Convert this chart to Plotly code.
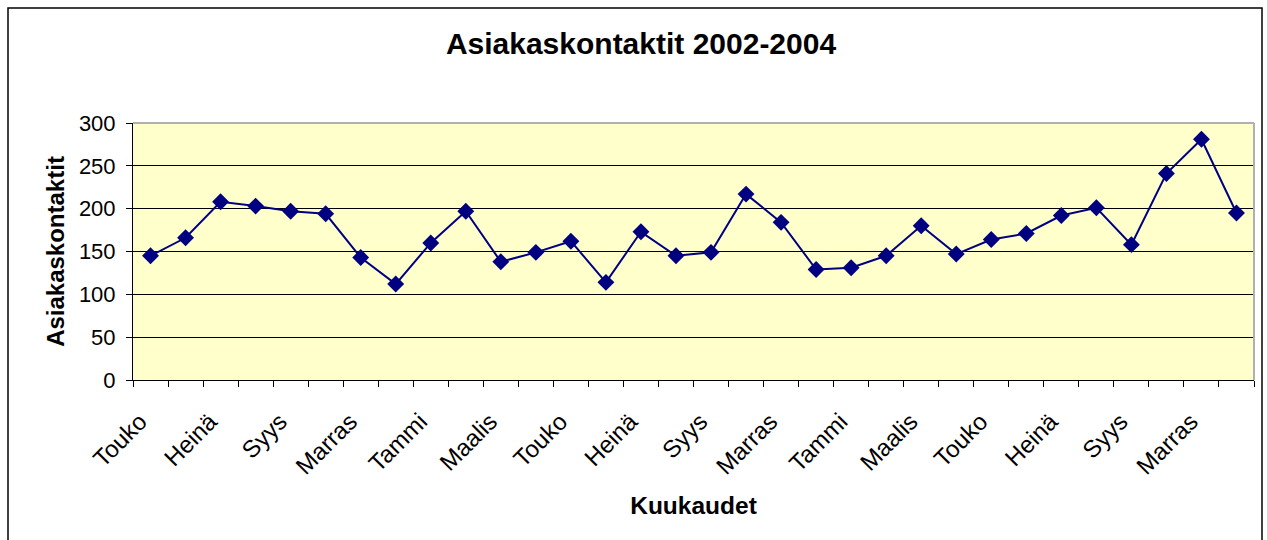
import plotly.graph_objects as go

months = ["Touko", "Kesä", "Heinä", "Elo", "Syys", "Loka", "Marras", "Joulu",
          "Tammi", "Helmi", "Maalis", "Huhti",
          "Touko", "Kesä", "Heinä", "Elo", "Syys", "Loka", "Marras", "Joulu",
          "Tammi", "Helmi", "Maalis", "Huhti",
          "Touko", "Kesä", "Heinä", "Elo", "Syys", "Loka", "Marras", "Joulu"]
values = [145, 166, 208, 203, 197, 194, 143, 112, 160, 197,
          138, 149, 162, 114, 173, 145, 149, 217, 184, 129,
          131, 145, 180, 147, 164, 171, 192, 201, 158, 241,
          281, 195]
title_text = "Asiakaskontaktit 2002-2004"
x_title = "Kuukaudet"
y_title = "Asiakaskontaktit"

idx = list(range(len(values)))
font = "Liberation Sans, Arial, sans-serif"

W, H = 1267, 540
L, R, T, B = 133, 1254, 123, 380  # plot area pixel edges
label_shift = -0.3  # rotated labels end slightly left of category centre

fig = go.Figure()
fig.add_trace(go.Scatter(
    x=idx, y=values, mode="lines+markers",
    line=dict(color="#000080", width=2),
    marker=dict(symbol="diamond", size=13, color="#000080"),
    hoverinfo="y", showlegend=False,
))

pw, ph = R - L, B - T
fig.update_layout(
    width=W, height=H,
    margin=dict(l=L, r=W - R, t=T, b=H - B),
    paper_bgcolor="white",
    plot_bgcolor="#FFFFCC",
    title=dict(text="<b>" + title_text + "</b>", x=641 / W, xref="container",
               xanchor="center", y=1 - 43 / H, yref="container", yanchor="middle",
               font=dict(family=font, size=30, color="black")),
    xaxis=dict(
        range=[-0.5, len(values) - 0.5], automargin=False,
        tickvals=[i + label_shift for i in idx[::2]], ticktext=months[::2],
        tickangle=-45, ticks="", showgrid=False, zeroline=False,
        showline=True, linecolor="black", linewidth=1,
        tickfont=dict(family=font, size=24, color="black"),
        ticklabelstandoff=17,
        minor=dict(tick0=-0.5, dtick=1, ticks="outside", ticklen=6,
                   tickcolor="black", tickwidth=1, showgrid=False),
        title=dict(text="<b>" + x_title + "</b>", standoff=18,
                   font=dict(family=font, size=24.5, color="black")),
    ),
    yaxis=dict(
        range=[0, 300], dtick=50, tick0=0, automargin=False,
        showgrid=True, gridcolor="black", gridwidth=1, zeroline=False,
        showline=True, linecolor="black", linewidth=1,
        ticks="outside", ticklen=6, tickcolor="black",
        tickfont=dict(family=font, size=22, color="black"),
        ticklabelstandoff=6,
        title=dict(text="<b>" + y_title + "</b>", standoff=7,
                   font=dict(family=font, size=24, color="black")),
    ),
    shapes=[
        dict(type="line", xref="paper", yref="paper", x0=0, x1=1, y0=1, y1=1,
             line=dict(color="#B0B0B0", width=2), layer="above"),
        dict(type="line", xref="paper", yref="paper", x0=1, x1=1, y0=0, y1=1,
             line=dict(color="#B0B0B0", width=2), layer="above"),
        dict(type="rect", xref="paper", yref="paper",
             x0=(8 - L) / pw, x1=(1262 - L) / pw,
             y0=(B - 560) / ph, y1=(B - 8) / ph,
             line=dict(color="black", width=1.5), fillcolor="rgba(0,0,0,0)",
             layer="below"),
    ],
)

fig.write_html("out.html", config={"displayModeBar": False},
               post_script="document.body.style.margin='0';")
